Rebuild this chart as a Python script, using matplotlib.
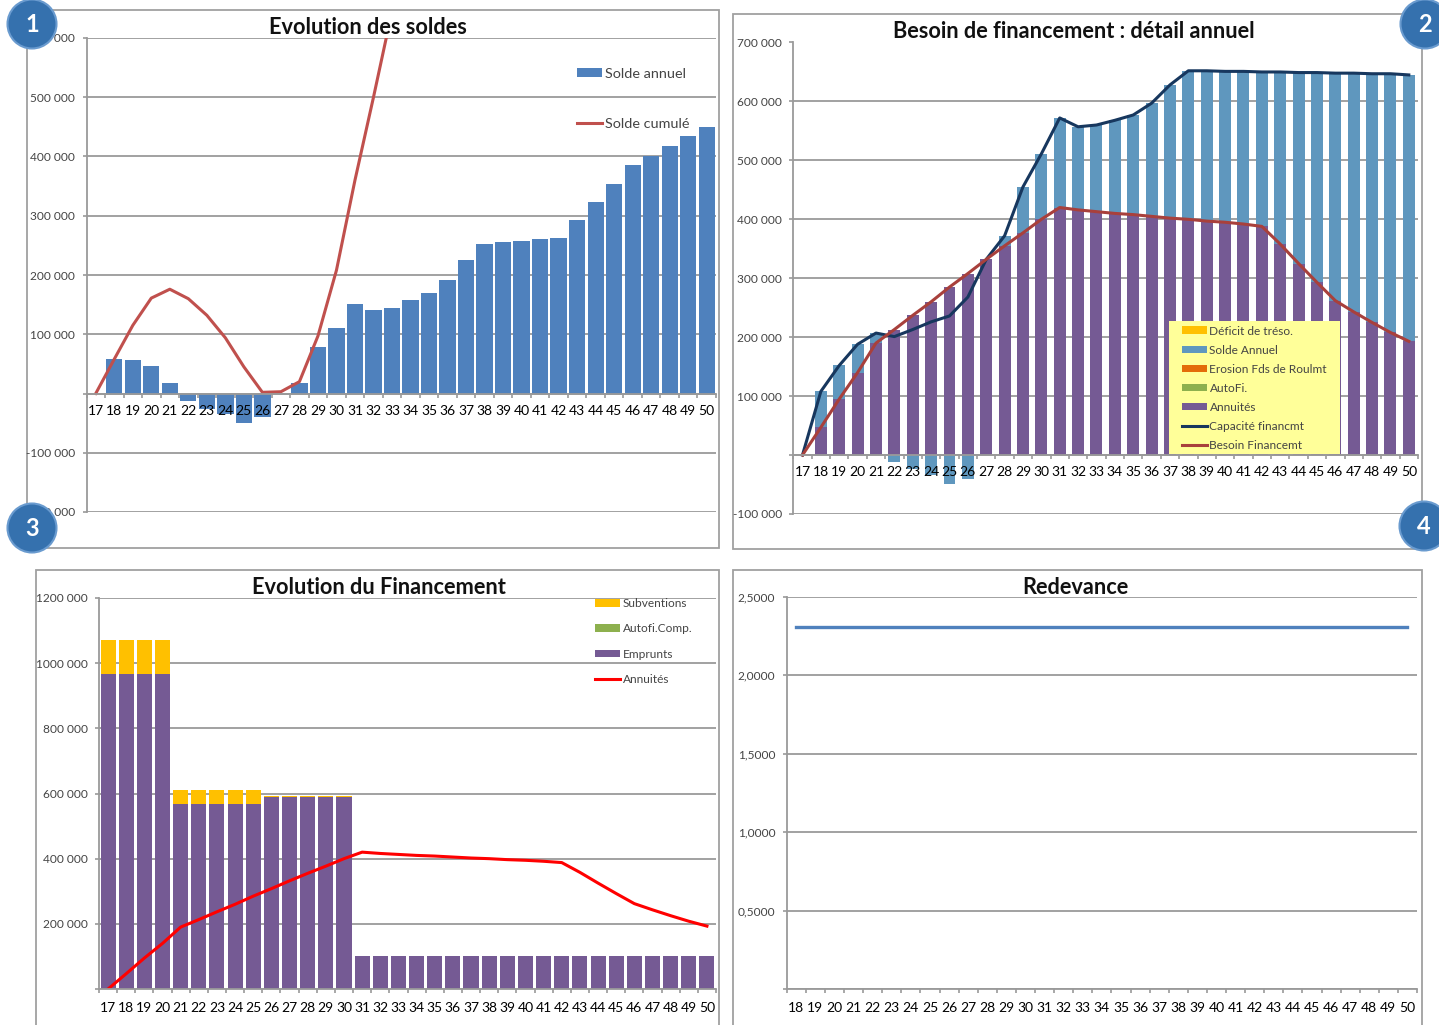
import matplotlib
matplotlib.use('Agg')
import matplotlib.pyplot as plt
from matplotlib.patches import Rectangle, Circle

plt.rcParams['font.family'] = ['Lato', 'DejaVu Sans']

W, H = 1439, 1025

annees = [str(a) for a in range(17, 51)]
annees_redevance = annees[1:]

solde_annuel = [0, 58000, 56000, 47000, 17000, -12000, -26000, -35000, -49000, -40000, 0, 17000,
                79000, 111000, 151000, 141000, 145000, 157000, 169000, 192000, 226000, 252000,
                255000, 257000, 260000, 262000, 293000, 324000, 354000, 385000, 401000, 418000,
                434000, 450000]
solde_cumule = [0, 58000, 115000, 161000, 176000, 160000, 132000, 94000, 45000, 2000, 3000, 20000,
                97000, 208000, 360000, 500000, 645000]

annuites = [0, 47000, 95000, 140000, 190000, 213000, 237000, 260000, 285000, 308000, 332000, 355000,
            377000, 400000, 420000, 416000, 413000, 410000, 408000, 405000, 402000, 400000, 397000,
            395000, 392000, 388000, 358000, 325000, 293000, 262000, 243000, 225000, 208000, 193000]
solde_detail = [0, 61000, 57000, 48000, 17000, -12000, -24000, -34000, -49000, -40000, 0, 17000,
                78000, 111000, 152000, 141000, 147000, 158000, 169000, 192000, 226000, 252000,
                255000, 256000, 259000, 262000, 292000, 324000, 356000, 386000, 405000, 422000,
                439000, 452000]
capacite = [0, 108000, 152000, 188000, 207000, 201000, 213000, 226000, 236000, 268000, 332000, 372000,
            455000, 511000, 572000, 557000, 560000, 568000, 577000, 597000, 628000, 652000, 652000,
            651000, 651000, 650000, 650000, 649000, 649000, 648000, 648000, 647000, 647000, 645000]
deficit = [0] * 34
erosion = [0] * 34
autofi = [0] * 34

emprunts = [968000, 968000, 968000, 968000, 568000, 568000, 568000, 568000, 568000, 588000, 588000,
            588000, 588000, 588000, 100000, 100000, 100000, 100000, 100000, 100000, 100000, 100000,
            100000, 100000, 100000, 100000, 100000, 100000, 100000, 100000, 100000, 100000, 100000,
            100000]
subventions = [102000, 102000, 102000, 102000, 42000, 42000, 42000, 42000, 42000, 5000, 5000, 5000,
               5000, 5000, 0, 0, 0, 0, 0, 0, 0, 0, 0, 0, 0, 0, 0, 0, 0, 0, 0, 0, 0, 0]
autofi_comp = [0] * 34

redevance = [2.31] * 33

ticks_soldes = [-200000, -100000, 0, 100000, 200000, 300000, 400000, 500000, 600000]
ticks_besoin = [-100000, 0, 100000, 200000, 300000, 400000, 500000, 600000, 700000]
ticks_fin = [0, 200000, 400000, 600000, 800000, 1000000, 1200000]
labels_fin = ['', '200 000', '400 000', '600 000', '800 000', '1000 000', '1200 000']
ticks_red = [0, 0.5, 1.0, 1.5, 2.0, 2.5]
labels_red = ['', '0,5000', '1,0000', '1,5000', '2,0000', '2,5000']

GRIS = '#9a9a9a'
TXT = '#444444'


def fmt_milliers(v):
    if v == 0:
        return ''
    s = f'{abs(v):,}'.replace(',', ' ')
    return '-' + s if v < 0 else s


def axes_px(x0, y0, x1, y1):
    return fig.add_axes([x0 / W, 1 - y1 / H, (x1 - x0) / W, (y1 - y0) / H])


def habille(ax, cats, yticks, ylabels, ylim, pad):
    n = len(cats)
    ax.set_xlim(-0.5, n - 0.5)
    ax.set_ylim(*ylim)
    ax.set_yticks(yticks)
    ax.set_yticklabels(ylabels, fontsize=8.6, color=TXT)
    ax.set_xticks(range(n))
    ax.set_xticklabels(cats, fontsize=8.3, color=TXT)
    ax.set_xticks([i - 0.5 for i in range(n + 1)], minor=True)
    ax.tick_params(axis='x', which='major', length=0, pad=pad)
    ax.tick_params(axis='x', which='minor', length=2.9, color=GRIS, width=1.2)
    ax.tick_params(axis='y', length=2.9, color=GRIS, width=1.2, pad=5.3)
    ax.grid(axis='y', color=GRIS, lw=1.3)
    ax.set_axisbelow(True)
    ax.xaxis.set_zorder(2.5)
    for c in ['top', 'right']:
        ax.spines[c].set_visible(False)
    ax.spines['left'].set_color(GRIS)
    ax.spines['left'].set_linewidth(1.3)
    ax.spines['bottom'].set_color(GRIS)
    ax.spines['bottom'].set_linewidth(1.3)
    ax.spines['bottom'].set_position(('data', 0))
    ax.patch.set_alpha(0)


def legende(ax, handles, x, y, espace, **kw):
    opts = dict(loc='upper left', bbox_to_anchor=(x / W, 1 - y / H), bbox_transform=fig.transFigure,
                frameon=False, fontsize=8.6, handlelength=2.1, handleheight=0.6, handletextpad=0.2,
                labelspacing=espace, borderpad=0, borderaxespad=0, labelcolor=TXT)
    opts.update(kw)
    return ax.legend(handles=handles, **opts)


fig = plt.figure(figsize=(W / 100, H / 100), dpi=100)

fond = fig.add_axes([0, 0, 1, 1], zorder=-1)
fond.set_xlim(0, W)
fond.set_ylim(H, 0)
fond.axis('off')
for x0, y0, x1, y1 in [(27, 10, 719, 548), (733, 14, 1422, 549), (36, 570, 719, 1040), (733, 570, 1422, 1040)]:
    fond.add_patch(Rectangle((x0, y0), x1 - x0, y1 - y0, fc='white', ec='#a0a0a0', lw=1.3))

# 1 - soldes
ax1 = axes_px(86.5, 38, 716, 512)
habille(ax1, annees, ticks_soldes, [fmt_milliers(v) for v in ticks_soldes], (-200000, 600000), 8)
b1 = ax1.bar(annees, solde_annuel, width=0.88, color='#4F81BD', label='Solde annuel')
l1, = ax1.plot(annees[:len(solde_cumule)], solde_cumule, color='#C0504D', lw=2.2, label='Solde cumulé')
legende(ax1, [b1, l1], 577, 68, 2.62, fontsize=10.4, handlelength=1.72)

# 2 - besoin
ax2 = axes_px(793.3, 42.5, 1418, 514)
habille(ax2, annees, ticks_besoin, [fmt_milliers(v) for v in ticks_besoin], (-100000, 700000), 8)
b_ann = ax2.bar(annees, annuites, width=0.65, color='#755A94', label='Annuités')
bas_auto = annuites
b_auto = ax2.bar(annees, autofi, bottom=bas_auto, width=0.65, color='#8DB04E', label='AutoFi.')
b_ero = ax2.bar(annees, erosion, bottom=bas_auto, width=0.65, color='#E36C09', label='Erosion Fds de Roulmt')
bas_solde = [a if s > 0 else 0 for a, s in zip(annuites, solde_detail)]
b_sol = ax2.bar(annees, solde_detail, bottom=bas_solde, width=0.65, color='#5F97BE', label='Solde Annuel')
b_def = ax2.bar(annees, deficit, bottom=bas_auto, width=0.65, color='#FFC000', label='Déficit de tréso.')
l_cap, = ax2.plot(annees, capacite, color='#17375E', lw=2.2, label='Capacité financmt')
l_bes, = ax2.plot(annees, annuites, color='#A8403C', lw=2.2, label='Besoin Financemt')
fig.add_artist(Rectangle((1169 / W, 1 - 454 / H), 171 / W, 133 / H, transform=fig.transFigure,
                         fc='#FFFF99', ec='none', zorder=4))
ax2.set_zorder(1)
leg = legende(ax2, [b_def, b_sol, b_ero, b_auto, b_ann, l_cap, l_bes], 1182, 325.5, 0.67)
leg.remove()
fig.add_artist(leg)

# 3 - financement
ax3 = axes_px(99, 598, 716, 989)
habille(ax3, annees, ticks_fin, labels_fin, (0, 1200000), 9)
b_emp = ax3.bar(annees, emprunts, width=0.83, color='#755A94', label='Emprunts')
b_aut = ax3.bar(annees, autofi_comp, bottom=emprunts, width=0.83, color='#8DB04E', label='Autofi.Comp.')
b_sub = ax3.bar(annees, subventions, bottom=emprunts, width=0.83, color='#FFC000', label='Subventions')
l_ann, = ax3.plot(annees, annuites, color='#FF0000', lw=2.2, label='Annuités')
legende(ax3, [b_sub, b_aut, b_emp, l_ann], 595, 598, 1.2)

# 4 - redevance
ax4 = axes_px(786.7, 597, 1417, 989)
habille(ax4, annees_redevance, ticks_red, labels_red, (0, 2.5), 9)
ax4.plot(annees_redevance, redevance, color='#4F81BD', lw=2.4)

for txt, x, y in [('Evolution des soldes', 368, 28), ('Besoin de financement : détail annuel', 1074, 32),
                  ('Evolution du Financement', 379, 587), ('Redevance', 1075, 587)]:
    fig.text(x / W, 1 - y / H, txt, ha='center', va='center', fontsize=15.7, fontweight='bold', color='#111111')

# pastilles
dessus = fig.add_axes([0, 0, 1, 1], zorder=20)
dessus.set_xlim(0, W)
dessus.set_ylim(H, 0)
dessus.axis('off')
for num, x, y in [('1', 32, 24), ('2', 1425, 24), ('3', 32, 528), ('4', 1424, 526)]:
    dessus.add_patch(Circle((x, y), 24.5, fc='#3571AE', ec='#6A9BCF', lw=1.5))
    dessus.text(x, y, num, color='white', ha='center', va='center', fontsize=17, fontweight='bold')

fig.savefig('out.png', dpi=100)
